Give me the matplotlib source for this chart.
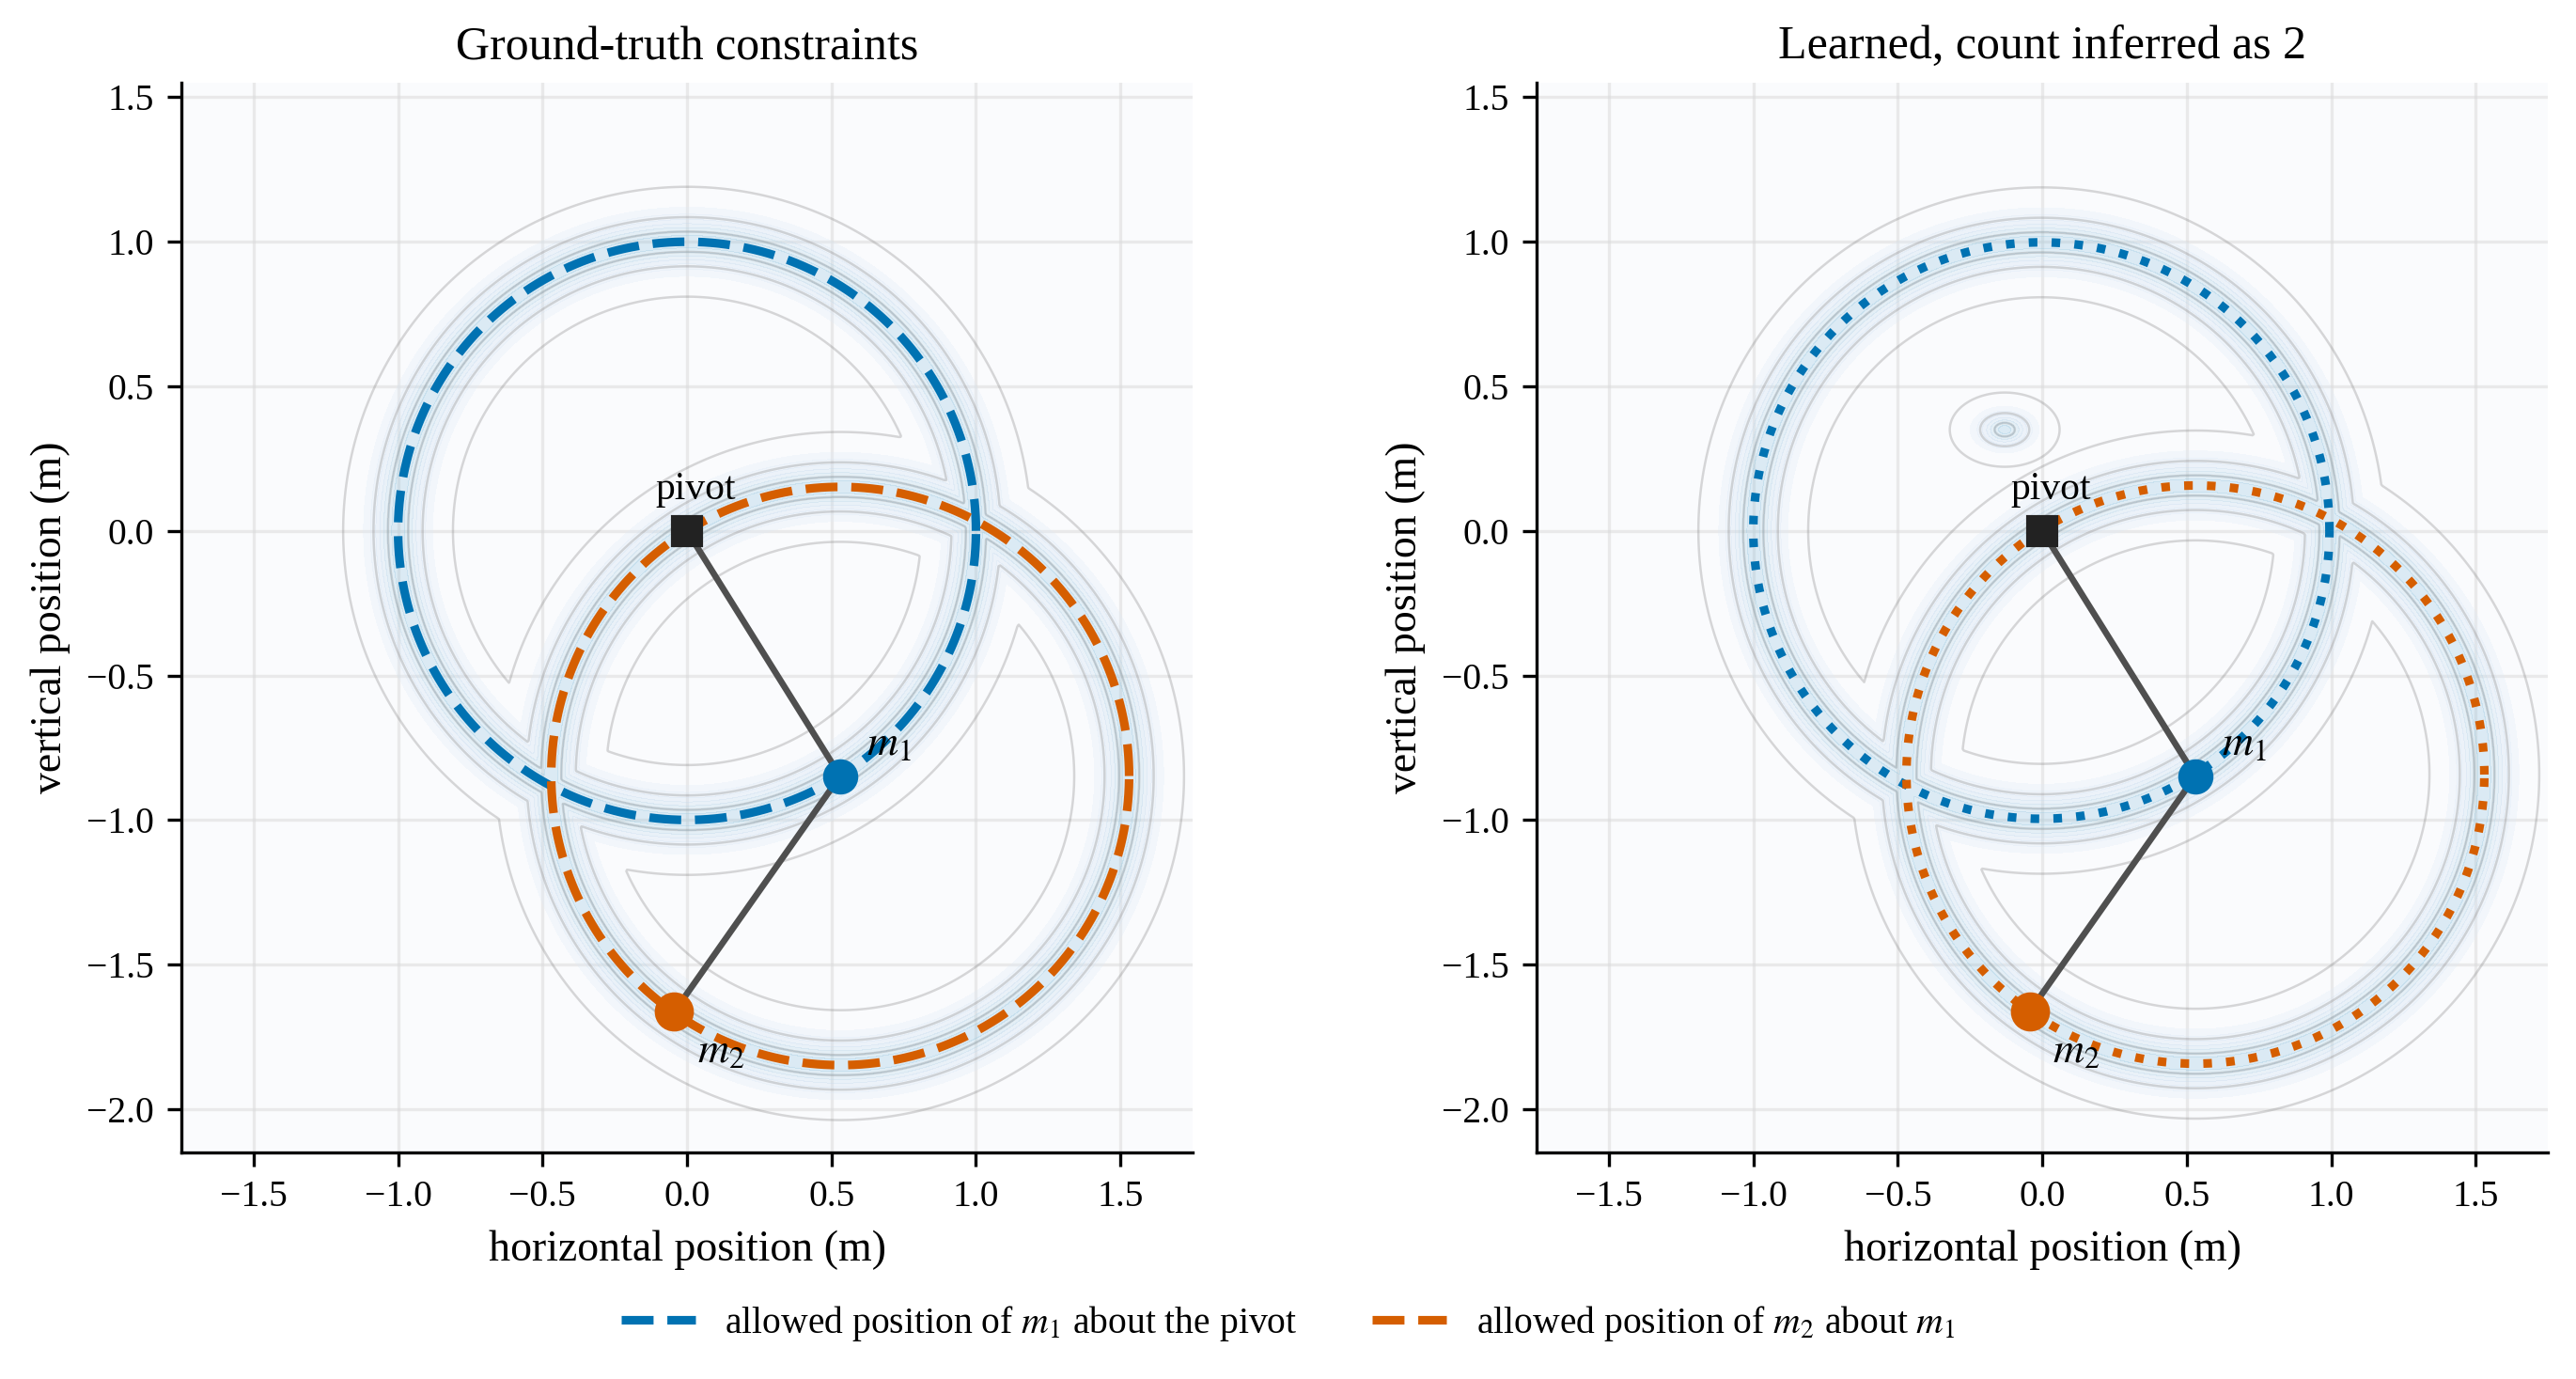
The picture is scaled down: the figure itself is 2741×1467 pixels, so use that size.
import numpy as np
import matplotlib.pyplot as plt

plt.rcParams['font.family'] = 'serif'
plt.rcParams['font.serif'] = ['Liberation Serif', 'DejaVu Serif']
plt.rcParams['mathtext.fontset'] = 'stix'

BLUE = '#0072B2'
ORANGE = '#D55E00'

# pendulum state
pivot = (0.0, 0.0)
m1_pos = (0.53, -0.848)
m2_pos = (-0.044, -1.663)
rod_lengths = [1.0, 1.0]

# learned constraint circles: centre x, centre y, radius
learned_c1 = (-0.003, 0.001, 0.997)
learned_c2 = (0.53, -0.843, 1.0)
# spurious minimum of the learned energy
spurious_center = (-0.13, 0.35)
spurious_squash = 1.48

iso_levels = [0.035, 0.085, 0.19]

titles = ['Ground-truth constraints', 'Learned, count inferred as 2']
legend_labels = [r'allowed position of $m_1$ about the pivot',
                 r'allowed position of $m_2$ about $m_1$']

xlim = (-1.75, 1.75)
ylim = (-2.15, 1.55)

xs = np.linspace(xlim[0], xlim[1], 600)
ys = np.linspace(ylim[0], ylim[1], 640)
X, Y = np.meshgrid(xs, ys)


def ring(cx, cy, r):
    return np.abs(np.hypot(X - cx, Y - cy) - r)


f_true = np.minimum(ring(pivot[0], pivot[1], rod_lengths[0]),
                    ring(m1_pos[0], m1_pos[1], rod_lengths[1]))
f_learn = np.minimum(ring(*learned_c1), ring(*learned_c2))
f_learn = np.minimum(f_learn, np.hypot(X - spurious_center[0],
                                       (Y - spurious_center[1]) * spurious_squash))

fig = plt.figure(figsize=(2741 / 300, 1467 / 300), dpi=300)
ax1 = fig.add_axes([0.0704, 0.1643, 0.3926, 0.7757])
ax2 = fig.add_axes([0.5965, 0.1643, 0.3926, 0.7757])

theta = np.linspace(0, 2 * np.pi, 500)
handles = []

for k, (ax, field) in enumerate([(ax1, f_true), (ax2, f_learn)]):
    ax.set_facecolor('#fafbfd')
    g = np.exp(-(field / 0.075) ** 2)
    ax.contourf(X, Y, g, levels=[0.08, 0.2, 0.35, 0.5, 0.65, 0.8, 0.92, 1.01],
                cmap='Blues', vmin=-0.2, vmax=2.6, alpha=0.28, zorder=1)
    ax.contour(X, Y, field, levels=iso_levels, colors='0.5',
               linewidths=0.6, alpha=0.3, zorder=2)

    if k == 0:
        c1 = (pivot[0], pivot[1], rod_lengths[0])
        c2 = (m1_pos[0], m1_pos[1], rod_lengths[1])
        ls = '--'
    else:
        c1 = learned_c1
        c2 = learned_c2
        ls = ':'
    h1, = ax.plot(c1[0] + c1[2] * np.cos(theta), c1[1] + c1[2] * np.sin(theta),
                  ls, color=BLUE, lw=2.2, zorder=3)
    h2, = ax.plot(c2[0] + c2[2] * np.cos(theta), c2[1] + c2[2] * np.sin(theta),
                  ls, color=ORANGE, lw=2.2, zorder=3)
    if k == 0:
        handles = [h1, h2]

    ax.plot([pivot[0], m1_pos[0], m2_pos[0]], [pivot[1], m1_pos[1], m2_pos[1]],
            color='#4f4f4f', lw=1.6, zorder=4)
    ax.plot(pivot[0], pivot[1], 's', color='#222222', ms=7, zorder=5)
    ax.plot(m1_pos[0], m1_pos[1], 'o', color=BLUE, ms=8, zorder=6)
    ax.plot(m2_pos[0], m2_pos[1], 'o', color=ORANGE, ms=9, zorder=6)

    ax.text(pivot[0] + 0.03, pivot[1] + 0.08, 'pivot', ha='center', va='bottom',
            fontsize=10, zorder=7)
    ax.text(m1_pos[0] + 0.09, m1_pos[1] + 0.04, r'$m_1$', ha='left', va='bottom',
            fontsize=11, zorder=7)
    ax.text(m2_pos[0] + 0.08, m2_pos[1] - 0.07, r'$m_2$', ha='left', va='top',
            fontsize=11, zorder=7)

    ax.set_xlim(xlim)
    ax.set_ylim(ylim)
    ax.set_xticks([-1.5, -1.0, -0.5, 0.0, 0.5, 1.0, 1.5])
    ax.set_yticks([-2.0, -1.5, -1.0, -0.5, 0.0, 0.5, 1.0, 1.5])
    ax.tick_params(labelsize=9.5)
    ax.grid(True, color='0.85', lw=0.8, alpha=0.5)
    ax.set_axisbelow(True)
    ax.spines['top'].set_visible(False)
    ax.spines['right'].set_visible(False)
    ax.set_xlabel('horizontal position (m)', fontsize=11)
    ax.set_ylabel('vertical position (m)', fontsize=11)
    ax.set_title(titles[k], fontsize=12)

fig.legend(handles, legend_labels, loc='center', bbox_to_anchor=(0.5, 0.04),
           ncol=2, frameon=False, fontsize=9.5)

fig.savefig('out.png', dpi=300)
